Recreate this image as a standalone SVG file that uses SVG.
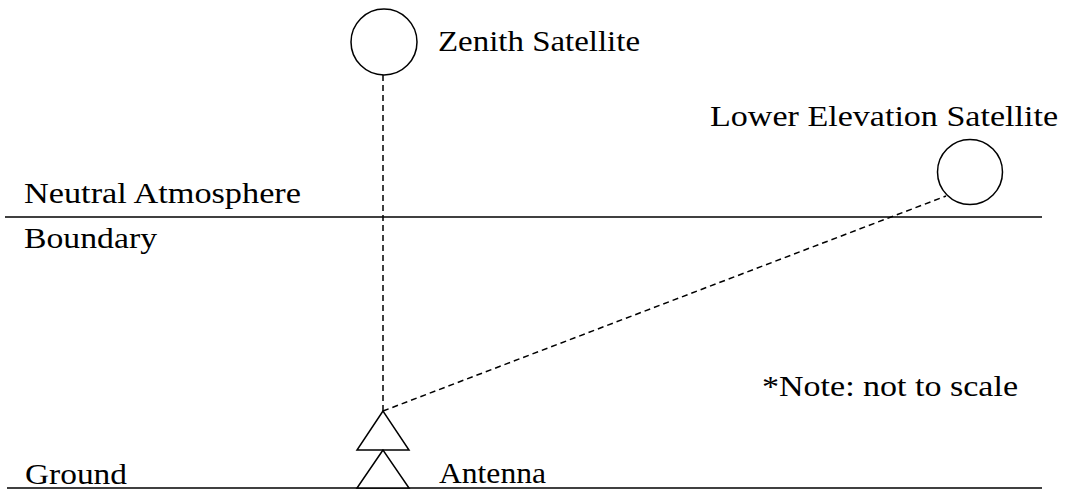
<svg xmlns="http://www.w3.org/2000/svg" width="1065" height="489" viewBox="0 0 1065 489">
<style>
.t{font-family:"Liberation Serif","Times New Roman",serif;font-size:30px;fill:#000}
.ln{stroke:#000;stroke-width:1.5;fill:none}
.sh{stroke:#000;stroke-width:1.5;fill:#fff}
.d{stroke:#000;stroke-width:1.5;stroke-dasharray:6,4;fill:none}
</style>
<rect width="1065" height="489" fill="#fff"/>
<g id="layers">
<line class="ln" x1="5" y1="217" x2="1042" y2="217"/>
<line class="ln" x1="7" y1="488" x2="1042" y2="488"/>
<text class="t" x="24" y="203" textLength="277" lengthAdjust="spacingAndGlyphs">Neutral Atmosphere</text>
<text class="t" x="24" y="248" textLength="133" lengthAdjust="spacingAndGlyphs">Boundary</text>
<text class="t" x="25" y="484" textLength="102" lengthAdjust="spacingAndGlyphs">Ground</text>
<text class="t" x="762" y="396" textLength="256" lengthAdjust="spacingAndGlyphs">*Note: not to scale</text>
</g>
<g id="connectors">
<line class="d" x1="383" y1="75" x2="383" y2="411"/>
<line class="d" x1="383" y1="411" x2="946" y2="196"/>
</g>
<g id="zenith-satellite">
<circle class="sh" cx="384" cy="42" r="33"/>
<text class="t" x="438" y="51" textLength="202" lengthAdjust="spacingAndGlyphs">Zenith Satellite</text>
</g>
<g id="lower-satellite">
<circle class="sh" cx="970" cy="172" r="32.5"/>
<text class="t" x="710" y="126" textLength="348" lengthAdjust="spacingAndGlyphs">Lower Elevation Satellite</text>
</g>
<g id="antenna">
<polygon class="sh" points="383,411 357,450 409,450"/>
<polygon class="sh" points="383,450 357,488 409,488"/>
<text class="t" x="439" y="483" textLength="107" lengthAdjust="spacingAndGlyphs">Antenna</text>
</g>
</svg>
